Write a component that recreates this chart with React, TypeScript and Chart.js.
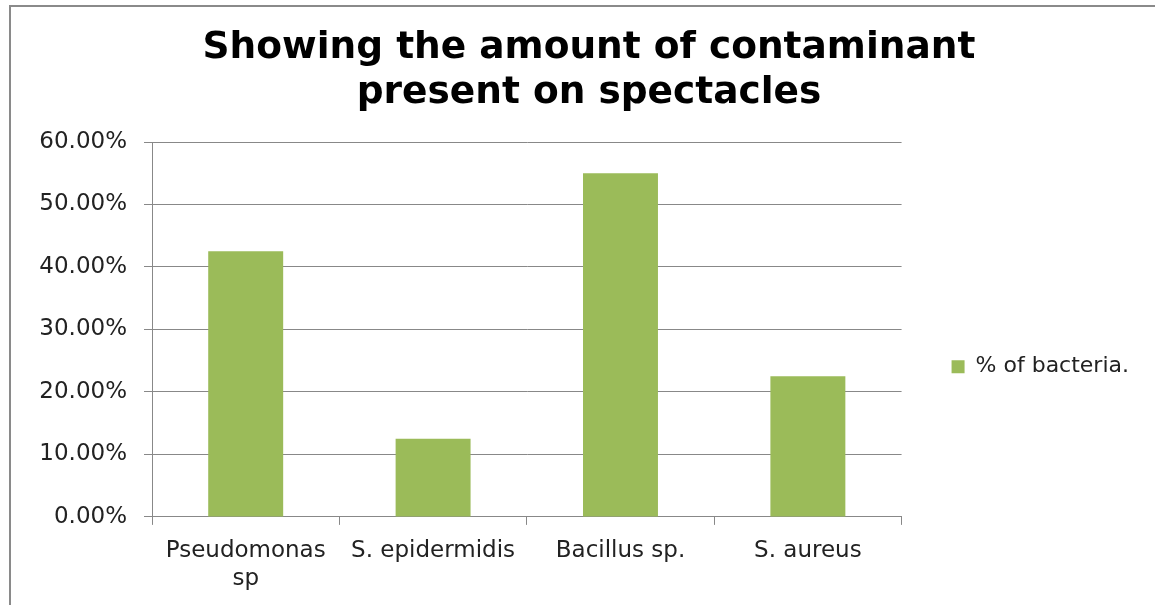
import React, { useEffect, useRef } from "react";
import { Chart, registerables } from "chart.js";

Chart.register(...registerables);

const titleLines = ["Showing the amount of contaminant", "present on spectacles"];
const categories: (string | string[])[] = [["Pseudomonas", "sp"], "S. epidermidis", "Bacillus sp.", "S. aureus"];
const seriesName = "% of bacteria.";
const seriesValues = [0.425, 0.125, 0.55, 0.225];
const yMin = 0;
const yMax = 0.6;
const yStep = 0.1;

export default function App() {
  const ref = useRef<HTMLCanvasElement | null>(null);

  useEffect(() => {
    if (!ref.current) return;
    const font = "'DejaVu Sans', sans-serif";
    const chart = new Chart(ref.current, {
      type: "bar",
      data: {
        labels: categories,
        datasets: [
          {
            label: seriesName,
            data: seriesValues,
            backgroundColor: "#9BBB59",
            borderWidth: 0,
            categoryPercentage: 1,
            barPercentage: 0.4,
          },
        ],
      },
      options: {
        animation: false,
        responsive: false,
        maintainAspectRatio: false,
        layout: { padding: { left: 27, right: 33, top: 0, bottom: 0 } },
        plugins: {
          tooltip: { enabled: false },
          title: {
            display: true,
            text: titleLines,
            color: "#000",
            font: { family: font, size: 37.5, weight: "bold", lineHeight: 1.2 },
            padding: { top: 18, bottom: 26 },
          },
          legend: {
            display: true,
            position: "right",
            fullSize: false,
            title: { display: true, text: " ", padding: { top: 60, bottom: 0 }, font: { size: 12 } },
            labels: {
              boxWidth: 13,
              boxHeight: 13,
              padding: 50,
              color: "#222",
              font: { family: font, size: 22 },
            },
          },
        },
        scales: {
          x: {
            grid: {
              display: true,
              drawOnChartArea: false,
              drawTicks: true,
              tickLength: 8,
              color: "#888",
              offset: true,
            },
            border: { display: true, color: "#888", width: 1 },
            ticks: {
              color: "#222",
              padding: 12,
              maxRotation: 0,
              autoSkip: false,
              font: { family: font, size: 23, lineHeight: 1.22 },
            },
          },
          y: {
            min: yMin,
            max: yMax,
            afterFit: (scale: any) => {
              scale.width = 113;
            },
            grid: { color: "#888", tickLength: 8, lineWidth: 1 },
            border: { display: true, color: "#888", width: 1 },
            ticks: {
              stepSize: yStep,
              color: "#222",
              padding: 17,
              font: { family: font, size: 23 },
              callback: (v: any) => (Number(v) * 100).toFixed(2) + "%",
            },
          },
        },
      },
    });
    return () => chart.destroy();
  }, []);

  return (
    <div style={{ position: "absolute", left: 0, top: 0, width: 1155, height: 605, overflow: "hidden", background: "#fff" }}>
      <div
        style={{
          position: "absolute",
          left: 9,
          top: 5,
          width: 1300,
          height: 800,
          borderLeft: "2px solid #8a8a8a",
          borderTop: "2px solid #8a8a8a",
        }}
      />
      <canvas ref={ref} width={1160} height={597} style={{ position: "absolute", left: 12, top: 8, width: 1160, height: 597 }} />
    </div>
  );
}
